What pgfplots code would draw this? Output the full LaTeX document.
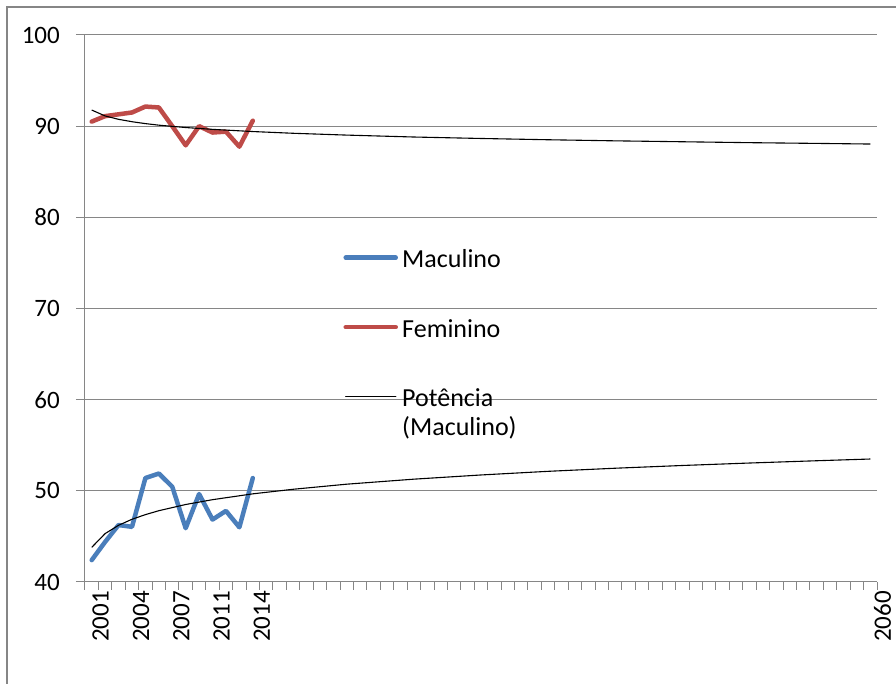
\documentclass[border=0pt]{standalone}
\usepackage{fontspec}
\setmainfont{Carlito}
\usepackage{pgfplots}
\pgfplotsset{compat=1.18}
\definecolor{mblue}{HTML}{4A7EBB}
\definecolor{fred}{HTML}{BE4B48}
\definecolor{gridc}{HTML}{868686}
\begin{document}
\begin{tikzpicture}
\useasboundingbox (-85pt,-102pt) rectangle (811pt,582pt);
\draw[gridc, line width=1.5pt] (-78pt,-120pt) -- (-78pt,575pt) -- (830pt,575pt);
\begin{axis}[
  scale only axis, width=792pt, height=547pt,
  xmin=-0.5, xmax=58.5, ymin=40, ymax=100,
  axis x line*=bottom, axis y line*=left,
  axis line style={gridc, line width=1pt},
  ytick={40,50,...,100},
  ymajorgrids, grid style={gridc, line width=1pt},
  xtick={0,3,6,9,12,58.25},
  xticklabels={2001,2004,2007,2011,2014,2060},
  minor xtick={-0.5,0.5,...,58.5},
  tick align=outside, major tick length=9pt, minor tick length=8pt,
  tick style={gridc, line width=1pt},
  every major x tick/.append style={draw=none},
  /pgf/number format/assume math mode=true,
  ticklabel style={font=\fontsize{25}{30}\selectfont, text=black},
  xticklabel style={rotate=90, anchor=east, inner sep=0pt, yshift=-9pt},
  yticklabel style={inner sep=0pt, xshift=-16pt},
  legend cell align=left,
  legend image code/.code={\path[draw=none,fill=none] (0pt,-3pt) rectangle (55pt,3pt); \draw[#1,line cap=round] (2.5pt,0pt) -- (52.5pt,0pt);},
  legend style={at={(rel axis cs:0.3258,0.6146)}, anchor=north west, draw=none, fill=none,
    inner sep=0pt, row sep=46.4pt, column sep=4pt, font=\fontsize{26}{31}\selectfont,
    nodes={inner sep=0pt}},
]
\addplot[mblue, line width=4.5pt, line join=round, line cap=round] coordinates {
(0,42.4) (1,44.4) (2,46.25) (3,46.05) (4,51.4) (5,51.9) (6,50.45) (7,45.9) (8,49.65) (9,46.85) (10,47.8) (11,46.0) (12,51.4)};
\addlegendentry{\strut Maculino}
\addplot[fred, line width=4.5pt, line join=round, line cap=round] coordinates {
(0,90.5) (1,91.1) (2,91.3) (3,91.5) (4,92.15) (5,92.05) (6,90.0) (7,87.9) (8,90.0) (9,89.3) (10,89.4) (11,87.75) (12,90.6)};
\addlegendentry{\strut Feminino}
\addplot[black, line width=1.1pt] coordinates {
(0,43.80) (1,45.31) (2,46.22) (3,46.88) (4,47.39) (5,47.82) (7,48.50) (9,49.03) (12,49.67) (15,50.17) (19,50.73) (24,51.28) (29,51.74) (34,52.14) (39,52.48) (44,52.78) (49,53.05) (54,53.30) (58,53.49)};
\addlegendentry{\strut\smash{\rlap{\raisebox{-29pt}{(Maculino)}}}Potência}
\addplot[black, line width=1.1pt, forget plot] coordinates {
(0,91.77) (1,91.12) (2,90.75) (3,90.49) (4,90.28) (5,90.11) (7,89.85) (9,89.65) (12,89.41) (15,89.22) (19,89.02) (24,88.81) (29,88.65) (34,88.51) (39,88.39) (44,88.29) (49,88.19) (54,88.11) (58,88.04)};
\end{axis}
\end{tikzpicture}
\end{document}
